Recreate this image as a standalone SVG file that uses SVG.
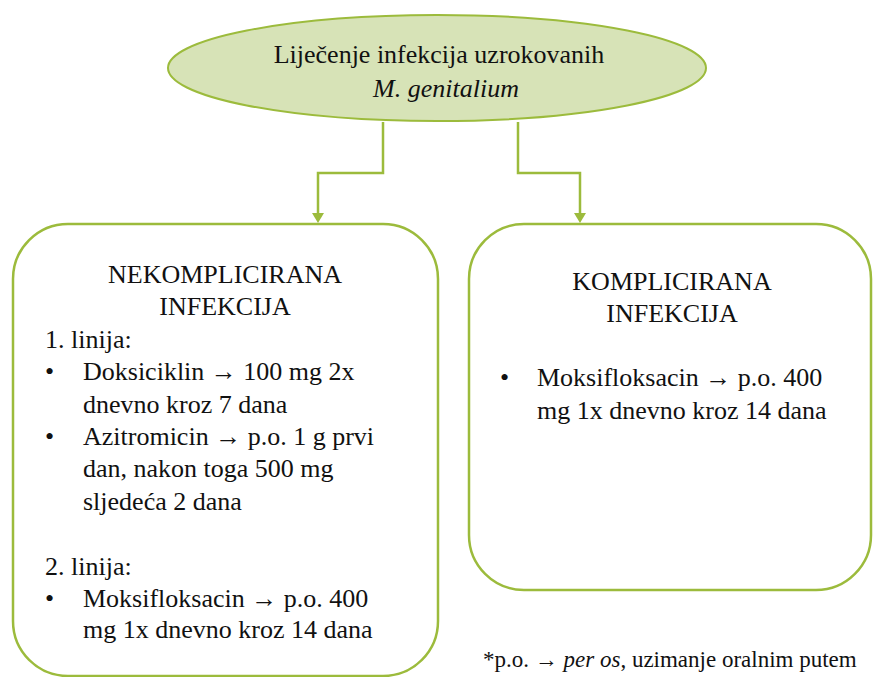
<svg xmlns="http://www.w3.org/2000/svg" width="873" height="677" viewBox="0 0 873 677" font-family="Liberation Serif, Tinos, Times New Roman, DejaVu Serif, serif">
<style>
.t{font-size:26px;fill:#111}
.c{text-anchor:middle}
.i{font-style:italic}
.a{font-weight:bold}
.fn{font-size:23px}
.box{fill:#fff;stroke:#9CBB3C;stroke-width:2.5}
.ln{fill:none;stroke:#9CBB3C;stroke-width:2.5}
.hd{fill:#9CBB3C}
</style>
<rect width="873" height="677" fill="#fff"/>
<g id="connectors">
<path class="ln" d="M383,122 V173 H318 V214"/>
<path class="ln" d="M518,122 V173 H580 V214"/>
<path class="hd" d="M312,213 L324,213 L318,223 Z"/>
<path class="hd" d="M574,213 L586,213 L580,223 Z"/>
</g>
<g id="root">
<ellipse cx="437" cy="68" rx="269" ry="53" fill="#D7E3B7" stroke="#9CBB3C" stroke-width="2"/>
<text class="t c" x="439" y="63">Liječenje infekcija uzrokovanih</text>
<text class="t c i" x="446" y="97">M. genitalium</text>
</g>
<g id="uncomplicated">
<rect class="box" x="13" y="224" width="425" height="452" rx="55"/>
<text class="t c" x="225" y="283">NEKOMPLICIRANA</text>
<text class="t c" x="225" y="315">INFEKCIJA</text>
<text class="t" x="45" y="348">1. linija:</text>
<text class="t" x="45" y="380">•</text>
<text class="t" x="83" y="380">Doksiciklin <tspan class="a">→</tspan> 100 mg 2x</text>
<text class="t" x="83" y="413">dnevno kroz 7 dana</text>
<text class="t" x="45" y="445">•</text>
<text class="t" x="83" y="445">Azitromicin <tspan class="a">→</tspan> p.o. 1 g prvi</text>
<text class="t" x="83" y="477">dan, nakon toga 500 mg</text>
<text class="t" x="83" y="510">sljedeća 2 dana</text>
<text class="t" x="45" y="575">2. linija:</text>
<text class="t" x="45" y="607">•</text>
<text class="t" x="83" y="607">Moksifloksacin <tspan class="a">→</tspan> p.o. 400</text>
<text class="t" x="83" y="638">mg 1x dnevno kroz 14 dana</text>
</g>
<g id="complicated">
<rect class="box" x="469" y="224" width="402" height="366" rx="55"/>
<text class="t c" x="672" y="290">KOMPLICIRANA</text>
<text class="t c" x="672" y="322">INFEKCIJA</text>
<text class="t" x="500" y="386">•</text>
<text class="t" x="537" y="386">Moksifloksacin <tspan class="a">→</tspan> p.o. 400</text>
<text class="t" x="537" y="419">mg 1x dnevno kroz 14 dana</text>
</g>
<g id="footnote">
<text class="t fn" x="483" y="667">*p.o. <tspan class="a">→</tspan> <tspan class="i">per os</tspan>, uzimanje oralnim putem</text>
</g>
</svg>
